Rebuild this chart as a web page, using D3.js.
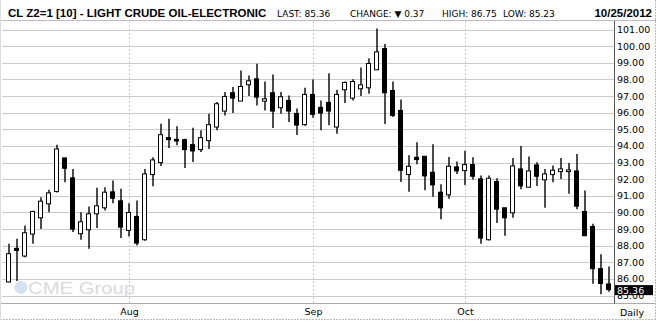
<!DOCTYPE html>
<head><meta charset="utf-8"/></head>
<style>
body { margin: 0; background: #fff; }
svg { display: block; background: #fff; }
.grid { stroke: #c9cdc9; stroke-width: 1; shape-rendering: crispEdges; }
.month { stroke: #d2c8d2; stroke-dasharray: 2,2; shape-rendering: crispEdges; }
.lbl { font-family: "DejaVu Sans", sans-serif; font-size: 9.5px; fill: #000; }
.hdr { font-family: "DejaVu Sans", sans-serif; font-size: 9px; fill: #000; }
.bold { font-family: "Liberation Sans", Arial, sans-serif; font-weight: bold; font-size: 11.5px; fill: #000; }
</style>
<script src="https://d3js.org/d3.v7.min.js"></script>
<body>
<div id="chart"></div>
</body>
<script>

var width = 661, height = 323;
var plot = {left: 2, right: 614, top: 21, bottom: 303.5};

// trading days shown
var dates = [
  "2012-07-11","2012-07-12","2012-07-13","2012-07-16","2012-07-17","2012-07-18","2012-07-19","2012-07-20",
  "2012-07-23","2012-07-24","2012-07-25","2012-07-26","2012-07-27","2012-07-30","2012-07-31",
  "2012-08-01","2012-08-02","2012-08-03","2012-08-06","2012-08-07","2012-08-08","2012-08-09","2012-08-10",
  "2012-08-13","2012-08-14","2012-08-15","2012-08-16","2012-08-17","2012-08-20","2012-08-21","2012-08-22",
  "2012-08-23","2012-08-24","2012-08-27","2012-08-28","2012-08-29","2012-08-30","2012-08-31",
  "2012-09-04","2012-09-05","2012-09-06","2012-09-07","2012-09-10","2012-09-11","2012-09-12","2012-09-13",
  "2012-09-14","2012-09-17","2012-09-18","2012-09-19","2012-09-20","2012-09-21","2012-09-24","2012-09-25",
  "2012-09-26","2012-09-27","2012-09-28",
  "2012-10-01","2012-10-02","2012-10-03","2012-10-04","2012-10-05","2012-10-08","2012-10-09","2012-10-10",
  "2012-10-11","2012-10-12","2012-10-15","2012-10-16","2012-10-17","2012-10-18","2012-10-19","2012-10-22",
  "2012-10-23","2012-10-24","2012-10-25"
];

var open = [
  85.82,87.84,87.38,88.70,89.68,90.52,91.26,93.28,92.08,88.72,88.96,89.92,90.28,91.24,90.70,
  88.92,89.76,88.36,92.28,93.00,94.50,94.40,94.38,94.08,93.78,94.32,95.14,96.10,97.20,96.70,97.68,
  98.04,96.70,97.20,96.30,96.74,95.96,95.28,
  97.10,96.32,96.62,95.14,97.38,96.88,97.44,97.50,98.58,99.86,97.34,96.14,92.28,93.32,93.38,92.42,
  91.22,91.06,92.74,
  92.52,92.88,92.02,88.36,91.86,90.28,89.98,92.62,91.52,92.86,91.96,92.28,92.46,92.46,92.50,90.06,
  89.16,86.62,85.70
];
var high = [
  88.12,88.42,89.22,90.10,90.92,91.36,94.08,93.30,92.62,90.02,90.36,91.48,91.52,91.92,91.42,
  90.56,90.72,92.62,93.32,95.34,95.64,95.18,94.44,95.10,94.94,95.94,96.64,97.24,97.54,98.54,98.24,
  98.94,97.88,98.30,97.24,97.04,96.26,97.50,
  98.00,96.74,98.38,97.38,97.88,98.02,98.72,99.28,101.06,100.14,97.88,96.80,93.44,94.22,93.38,94.10,
  91.70,93.34,93.06,
  93.72,93.32,92.22,92.22,92.06,90.28,93.28,94.00,93.36,93.02,92.62,92.82,93.28,92.98,93.52,91.32,
  89.32,87.48,86.75
];
var low = [
  85.80,85.88,87.30,88.12,89.00,90.02,91.20,91.82,88.82,88.36,87.82,89.06,90.12,90.56,88.46,
  88.56,88.02,88.30,91.58,92.80,93.88,94.04,92.68,93.04,93.64,93.82,94.94,95.84,95.98,96.70,97.00,
  96.44,96.14,95.08,95.94,95.44,94.66,95.22,
  95.70,94.94,95.24,94.74,96.58,96.74,97.00,97.14,98.58,95.32,95.74,91.84,91.24,92.90,91.34,90.94,
  89.60,90.82,92.32,
  91.66,91.98,88.12,88.32,89.36,88.60,89.68,91.40,91.52,91.60,90.28,91.82,92.02,91.12,90.20,88.60,
  85.72,85.08,85.23
];
var close = [
  87.52,87.72,88.78,90.06,90.68,91.18,93.82,92.66,89.00,89.44,89.92,90.40,91.22,90.86,89.12,
  90.00,88.16,92.32,93.16,94.68,94.38,94.30,93.78,93.70,94.50,95.28,96.54,96.98,96.88,97.58,97.92,
  96.94,96.84,96.10,96.96,96.10,95.26,97.10,
  95.90,95.98,96.10,97.10,97.82,97.88,97.68,98.96,99.66,97.20,95.84,92.54,92.78,93.18,92.20,91.66,
  90.28,92.78,92.50,
  92.88,92.18,88.46,92.06,90.20,89.68,92.80,91.60,92.50,92.18,92.32,92.54,92.62,92.56,90.38,88.60,
  86.62,85.73,85.36
];

var priceTicks = [85,86,87,88,89,90,91,92,93,94,95,96,97,98,99,100,101];
var monthLabels = [{date: "2012-08-01", label: "Aug"}, {date: "2012-09-04", label: "Sep"}, {date: "2012-10-01", label: "Oct"}];

var header = {
  title: "CL Z2=1 [10] - LIGHT CRUDE OIL-ELECTRONIC",
  last: "85.36", change: "0.37", high: "86.75", low: "85.23", date: "10/25/2012"
};

var candles = dates.map(function(d, i) {
  return {date: d, o: open[i], h: high[i], l: low[i], c: close[i]};
});

var svg = d3.select("#chart").append("svg")
  .attr("width", width)
  .attr("height", height);

var x = d3.scaleBand()
  .domain(dates)
  .range([4.5, 612.5]);

var y = d3.scaleLinear()
  .domain([85, 101])
  .range([295.6, 29.6]);

function cx(d) { return x(d) + x.bandwidth() / 2; }
function crisp(v) { return Math.round(v) + 0.5; }

var lastY = y(close[close.length - 1]);

// clip so the label under the last-price tag only peeks out below it
svg.append("clipPath").attr("id", "underTag")
  .append("rect")
  .attr("x", 614).attr("y", lastY + 5.5)
  .attr("width", 45).attr("height", 20);

// watermark
var wm = svg.append("g").attr("class", "watermark");
wm.append("circle")
  .attr("cx", 21).attr("cy", 287.5).attr("r", 6.5)
  .attr("fill", "#d3e2f1");
wm.append("text")
  .attr("x", 28).attr("y", 294)
  .attr("textLength", 107)
  .attr("lengthAdjust", "spacingAndGlyphs")
  .style("font-family", "Liberation Sans, Arial, sans-serif")
  .style("font-size", "17px")
  .style("fill", "#d9d9de")
  .text("CME Group");

// horizontal grid
svg.append("g").selectAll("line")
  .data(priceTicks)
  .enter().append("line")
  .attr("class", "grid")
  .attr("x1", plot.left).attr("x2", plot.right)
  .attr("y1", function(d) { return crisp(y(d)); })
  .attr("y2", function(d) { return crisp(y(d)); });

// month lines + labels
svg.append("g").selectAll("line")
  .data(monthLabels)
  .enter().append("line")
  .attr("class", "month")
  .attr("x1", function(d) { return crisp(cx(d.date)); })
  .attr("x2", function(d) { return crisp(cx(d.date)); })
  .attr("y1", plot.top).attr("y2", plot.bottom);

svg.append("g").selectAll("text")
  .data(monthLabels)
  .enter().append("text")
  .attr("class", "lbl")
  .attr("x", function(d) { return cx(d.date) + 1; })
  .attr("y", 315)
  .attr("text-anchor", "middle")
  .text(function(d) { return d.label; });

// frame lines
svg.append("line").attr("x1", 0).attr("x2", 656).attr("y1", 20.5).attr("y2", 20.5)
  .style("stroke", "#c4b6cc");
svg.append("line").attr("x1", 0).attr("x2", 656).attr("y1", 303.5).attr("y2", 303.5)
  .style("stroke", "#a9a9a9");
svg.append("line").attr("x1", 0).attr("x2", 656).attr("y1", 319.5).attr("y2", 319.5)
  .style("stroke", "#bbbbbb").style("stroke-dasharray", "2,1");
svg.append("line").attr("x1", 655.5).attr("x2", 655.5).attr("y1", 0).attr("y2", 320)
  .style("stroke", "#bbbbbb").style("stroke-dasharray", "2,1");
svg.append("line").attr("x1", 0.5).attr("x2", 0.5).attr("y1", 0).attr("y2", 320)
  .style("stroke", "#dddddd");
svg.append("line").attr("x1", 614.5).attr("x2", 614.5).attr("y1", 21).attr("y2", 303.5)
  .style("stroke", "#555555");

// candles
var g = svg.append("g").attr("class", "candles");

g.selectAll(".wick")
  .data(candles)
  .enter().append("line")
  .attr("class", "wick")
  .attr("x1", function(d) { return crisp(cx(d.date)) - 0.5; })
  .attr("x2", function(d) { return crisp(cx(d.date)) - 0.5; })
  .attr("y1", function(d) { return y(d.h); })
  .attr("y2", function(d) { return y(d.l); })
  .style("stroke", "#000")
  .style("stroke-width", 1.4);

g.selectAll(".body")
  .data(candles)
  .enter().append("rect")
  .attr("class", "body")
  .attr("x", function(d) { return Math.round(cx(d.date)) - 2.5; })
  .attr("width", 4)
  .attr("y", function(d) { return y(Math.max(d.o, d.c)); })
  .attr("height", function(d) { return Math.max(1, Math.abs(y(d.o) - y(d.c))); })
  .style("fill", function(d) { return d.c < d.o ? "#000" : "#fff"; })
  .style("stroke", "#000")
  .style("stroke-width", 1);

// price labels (85.00 sits behind the last-price tag)
svg.append("g").selectAll("text")
  .data(priceTicks)
  .enter().append("text")
  .attr("class", "lbl")
  .attr("x", 617)
  .attr("y", function(d) { return y(d) + 3.5; })
  .attr("clip-path", function(d) { return Math.abs(y(d) - lastY) < 10 ? "url(#underTag)" : null; })
  .text(function(d) { return d3.format(".2f")(d); });

// last price tag
svg.append("rect")
  .attr("x", 615).attr("y", lastY - 4.5)
  .attr("width", 38).attr("height", 10)
  .style("fill", "#000");
svg.append("text")
  .attr("class", "lbl")
  .attr("x", 617).attr("y", lastY + 4)
  .style("fill", "#fff")
  .text(header.last);

svg.append("text")
  .attr("class", "lbl")
  .attr("x", 632).attr("y", 316)
  .attr("text-anchor", "middle")
  .text("Daily");

// header
svg.append("text").attr("class", "bold").attr("x", 8).attr("y", 17).text(header.title);
svg.append("text").attr("class", "hdr").attr("x", 277).attr("y", 17).text("LAST: " + header.last);
svg.append("text").attr("class", "hdr").attr("x", 350).attr("y", 17).text("CHANGE: \u25BC " + header.change);
svg.append("text").attr("class", "hdr").attr("x", 442).attr("y", 17).text("HIGH: " + header.high);
svg.append("text").attr("class", "hdr").attr("x", 503).attr("y", 17).text("LOW: " + header.low);
svg.append("text").attr("class", "bold").attr("x", 652).attr("y", 17)
  .attr("text-anchor", "end").text(header.date);

</script>
